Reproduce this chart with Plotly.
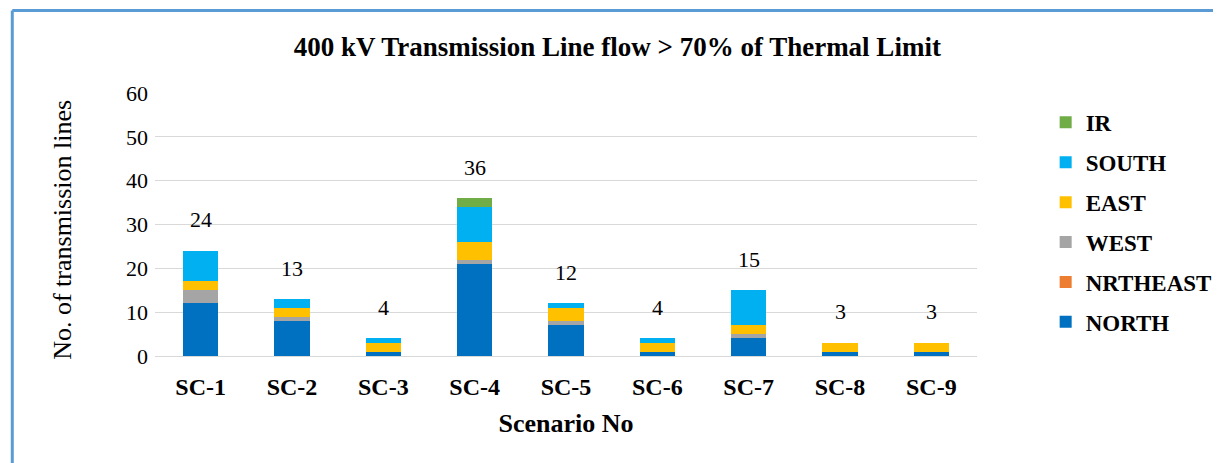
import plotly.graph_objects as go

scenarios = ["SC-1", "SC-2", "SC-3", "SC-4", "SC-5", "SC-6", "SC-7", "SC-8", "SC-9"]

north = [12, 8, 1, 21, 7, 1, 4, 1, 1]
nrtheast = [0, 0, 0, 0, 0, 0, 0, 0, 0]
west = [3, 1, 0, 1, 1, 0, 1, 0, 0]
east = [2, 2, 2, 4, 3, 2, 2, 2, 2]
south = [7, 2, 1, 8, 1, 1, 8, 0, 0]
ir = [0, 0, 0, 2, 0, 0, 0, 0, 0]

series = [
    ("NORTH", north, "#0070C0"),
    ("NRTHEAST", nrtheast, "#ED7D31"),
    ("WEST", west, "#A5A5A5"),
    ("EAST", east, "#FFC000"),
    ("SOUTH", south, "#00B0F0"),
    ("IR", ir, "#70AD47"),
]

totals = [sum(v) for v in zip(north, nrtheast, west, east, south, ir)]

FONT = "Liberation Serif"

# page body has an 8px margin, so the layout is nudged up/left by that much
L, T, B = 147, 85, 115
PW, PH = 838, 263

fig = go.Figure()
for i, (name, vals, col) in enumerate(series):
    fig.add_trace(go.Bar(x=scenarios, y=vals, name=name, marker_color=col,
                         marker_line_width=0, legendgroup=f"g{i}",
                         legendrank=len(series) - i))

# total labels above each stack
for sc, t in zip(scenarios, totals):
    fig.add_annotation(x=sc, y=t, text=str(t), showarrow=False, yanchor="middle",
                       yshift=31, font=dict(family=FONT, size=22, color="#000000"))

# y axis title as annotation (sits a bit lower than the plot centre)
fig.add_annotation(text="No. of transmission lines", xref="paper", yref="paper",
                   x=(52 - L) / PW, y=0.479, textangle=-90, showarrow=False,
                   xanchor="center", yanchor="middle",
                   font=dict(family=FONT, size=26, color="#000000"))

# blue frame at the top and left edge
border = "#5B9BD5"
bx = (1.5 - L) / PW
by = 1 + (T - 2.5) / PH
fig.add_shape(type="line", xref="paper", yref="paper", x0=bx, x1=1.4, y0=by, y1=by,
              line=dict(color=border, width=3))
fig.add_shape(type="line", xref="paper", yref="paper", x0=bx, x1=bx, y0=by, y1=-0.5,
              line=dict(color=border, width=3))

fig.update_layout(
    barmode="stack",
    bargap=0.61,
    width=1221, height=463,
    margin=dict(l=L, r=1221 - L - PW, t=T, b=B),
    paper_bgcolor="white", plot_bgcolor="white",
    font=dict(family=FONT, color="#000000"),
    title=dict(text="<b>400 kV Transmission Line flow > 70% of Thermal Limit</b>",
               x=0.499, xref="container", xanchor="center",
               y=0.916, yref="container", yanchor="middle",
               font=dict(family=FONT, size=27, color="#000000")),
    xaxis=dict(title=dict(text="<b>Scenario No</b>", font=dict(family=FONT, size=26), standoff=14),
               tickfont=dict(family=FONT, size=24, weight="bold"),
               showgrid=False, showline=False, ticks="", ticklabelstandoff=14),
    yaxis=dict(range=[0, 60], dtick=10, tickfont=dict(family=FONT, size=22),
               showgrid=True, gridcolor="#D9D9D9", gridwidth=1,
               zeroline=True, zerolinecolor="#D9D9D9", zerolinewidth=1,
               showline=False, ticks="", ticklabelstandoff=6),
    legend=dict(x=(1055 - L) / PW, xref="paper", y=0.97, xanchor="left", yanchor="top",
                traceorder="grouped",
                font=dict(family=FONT, size=23, weight="bold"),
                tracegroupgap=7, itemwidth=30, bgcolor="rgba(0,0,0,0)"),
)

fig.write_html("out.html")
